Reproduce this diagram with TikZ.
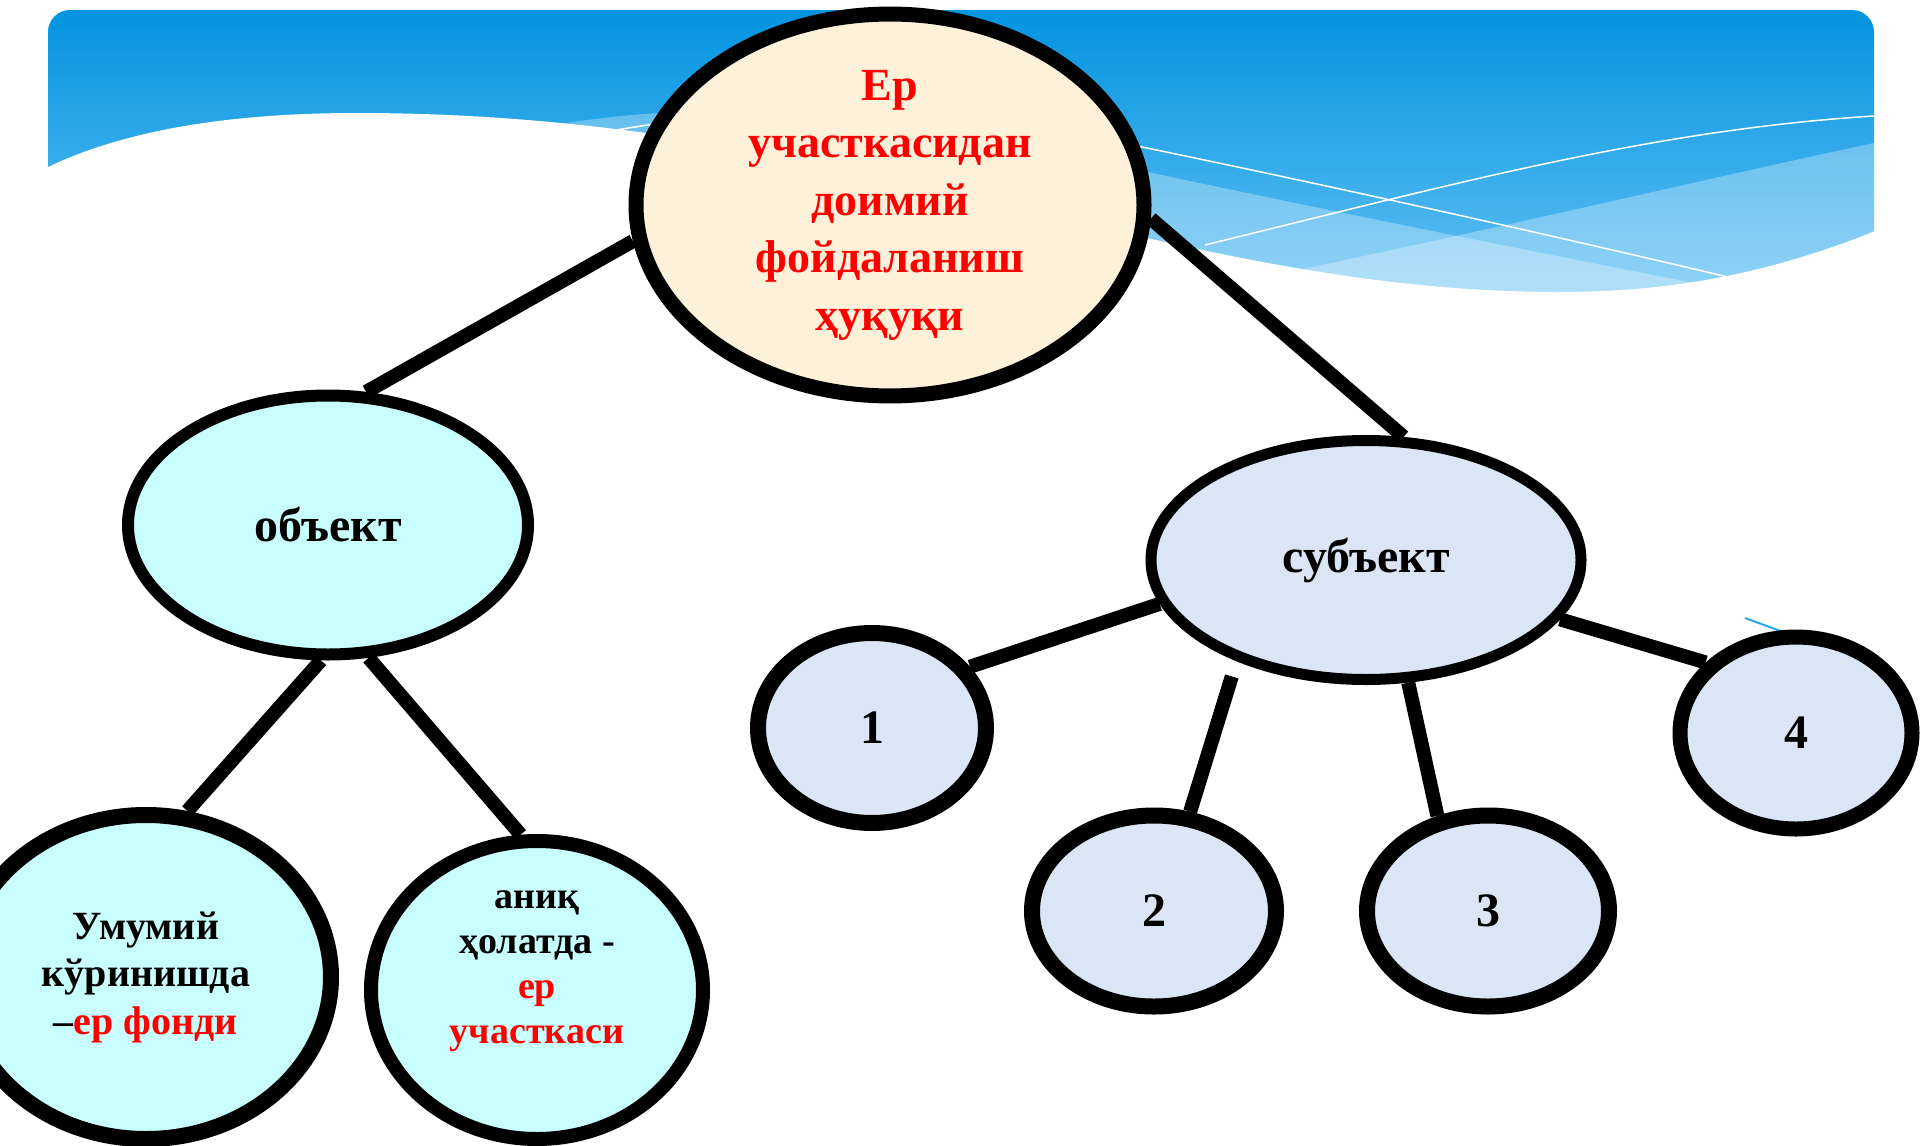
\documentclass[tikz,border=0pt]{standalone}
\usepackage{fontspec}
\setmainfont{Liberation Serif}
\usepackage{tikz}
\usepackage{xcolor}
\usetikzlibrary{shapes.geometric}
\definecolor{skytop}{RGB}{4,148,224}
\definecolor{skybottom}{RGB}{131,207,250}
\definecolor{cream}{RGB}{253,241,218}
\definecolor{aqua}{RGB}{200,254,254}
\definecolor{paleblue}{RGB}{218,229,246}
\definecolor{strayblue}{RGB}{41,169,240}
\tikzset{
    bubble/.style = {draw=black, ellipse, inner sep=0pt, align=center},
    main-bubble/.style = {bubble, fill=cream, line width=15pt, text=red, font=\fontsize{46}{57.5}\selectfont\bfseries},
    object-bubble/.style = {bubble, fill=aqua, font=\fontsize{48}{57}\selectfont\bfseries},
    subject-bubble/.style = {bubble, fill=paleblue, font=\fontsize{48}{57}\selectfont\bfseries},
    link-line/.style = {draw=black, line width=14pt},
}
\begin{document}
\begin{tikzpicture}[x=1pt, y=-1pt]
\useasboundingbox (0,0) rectangle (1920,1146);
% sky band with waves
\shade[top color=skytop, bottom color=skybottom, rounded corners=22pt] (48,10) rectangle (1874,400);
\fill[white, opacity=0.3] (540,128) .. controls (700,95) and (950,110) .. (1152,173) .. controls (1350,215) and (1550,255) .. (1730,290) -- (1730,420) -- (540,420) -- cycle;
\fill[white, opacity=0.3] (1200,290) .. controls (1450,240) and (1700,180) .. (1874,143) -- (1874,420) -- (1200,420) -- cycle;
\draw[white, line width=1.5pt] (600,133) .. controls (800,95) and (1000,115) .. (1142,147) .. controls (1350,190) and (1550,235) .. (1728,277);
\draw[white, line width=1.5pt] (1205,245) .. controls (1450,185) and (1650,130) .. (1874,116);
\fill[white] (40,171) .. controls (130,125) and (250,113) .. (357,113) .. controls (857,113) and (1160,292) .. (1560,292) .. controls (1680,292) and (1780,270) .. (1880,229) -- (1880,430) -- (40,430) -- cycle;
\coordinate (stray-a) at (1745,618);
\coordinate (stray-b) at (1797,637);
\draw[strayblue, line width=2pt] (stray-a) -- (stray-b);

% tree
\node [main-bubble, minimum width=508pt, minimum height=379pt] (main) at (890,205) {Ер\\участкасидан\\доимий\\фойдаланиш\\ҳуқуқи};
\node [object-bubble, line width=12pt, minimum width=400pt, minimum height=259pt] (object) at (328,525) {объект};
\node [subject-bubble, line width=11pt, minimum width=430pt, minimum height=239pt] (subject) at (1366,560) {субъект};
\node [object-bubble, line width=16pt, minimum width=370pt, minimum height=324pt, font=\fontsize{40}{47.5}\selectfont\bfseries] (general) at (146,977) {Умумий\\кўринишда\\–\textcolor{red}{ер фонди}};
\node [object-bubble, line width=14pt, minimum width=332pt, minimum height=298pt, font=\fontsize{38}{45}\selectfont\bfseries] (exact) at (537,990) {аниқ\\ҳолатда -\\\textcolor{red}{ер}\\\textcolor{red}{участкаси}\\\mbox{}};
\node [subject-bubble, line width=16pt, minimum width=228pt, minimum height=190pt] (one) at (872,728) {1};
\node [subject-bubble, line width=16pt, minimum width=244pt, minimum height=191pt] (two) at (1154,911) {2};
\node [subject-bubble, line width=16pt, minimum width=242pt, minimum height=191pt] (three) at (1488,911) {3};
\node [subject-bubble, line width=15pt, minimum width=232pt, minimum height=192pt] (four) at (1796,733) {4};

\draw [link-line] (main.188) -- (object.74);
\draw [link-line] (main.-3) -- (subject.73);
\draw [link-line] (object.267) -- (general.76);
\draw [link-line] (object.287) -- (exact.96);
\draw [link-line] (subject.192) -- (one.32);
\draw [link-line, shorten <=16pt] (subject.218) -- (two.70);
\draw [link-line] (subject.289) -- (three.118);
\draw [link-line] (subject.343) -- (four.142);
\end{tikzpicture}
\end{document}
